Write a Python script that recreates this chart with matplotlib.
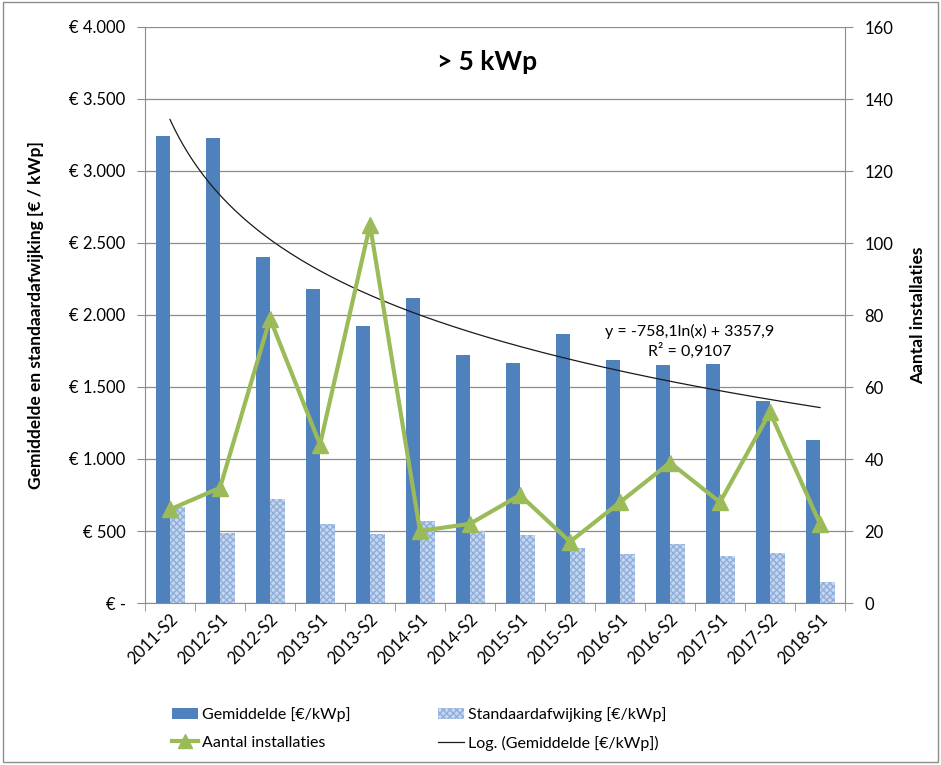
import matplotlib
matplotlib.use("Agg")
import matplotlib.pyplot as plt
import numpy as np
from matplotlib.patches import Rectangle, Patch
from matplotlib.lines import Line2D
from matplotlib.ticker import FixedLocator, FuncFormatter

plt.rcParams['font.family'] = ['Lato', 'DejaVu Sans']

categories = ["2011-S2", "2012-S1", "2012-S2", "2013-S1", "2013-S2", "2014-S1", "2014-S2",
              "2015-S1", "2015-S2", "2016-S1", "2016-S2", "2017-S1", "2017-S2", "2018-S1"]
gemiddelde = [3240, 3230, 2400, 2180, 1925, 2120, 1720, 1667, 1868, 1690, 1655, 1662, 1401, 1134]
standaardafwijking = [670, 484, 722, 549, 479, 572, 502, 472, 382, 340, 412, 326, 347, 146]
aantal = [26, 32, 79, 44, 105, 20, 22, 30, 17, 28, 39, 28, 53, 22]
trend_a = -758.1
trend_b = 3357.9
left_ticks = [0, 500, 1000, 1500, 2000, 2500, 3000, 3500, 4000]
right_ticks = [0, 20, 40, 60, 80, 100, 120, 140, 160]

W, H = 941, 765
fig = plt.figure(figsize=(W / 100, H / 100), dpi=100)
ax = fig.add_axes([145 / W, 1 - 603 / H, 700 / W, 576 / H])
ax2 = ax.twinx()

x = np.arange(len(categories))
bw = 0.29
ax.bar(x - bw / 2, gemiddelde, width=bw, color='#4f81bd', zorder=3)
ax.bar(x + bw / 2, standaardafwijking, width=bw, facecolor='#c5d6ee', edgecolor='#8eaedb',
       hatch='xxxxx', linewidth=0, zorder=3)

xt = np.linspace(1, len(categories), 200)
ax.plot(xt - 1, trend_a * np.log(xt) + trend_b, color='#1a1a1a', lw=0.9, zorder=4)

ax2.plot(x, aantal, color='#9bbb59', lw=3, marker='^', markersize=12, zorder=5)

ax.set_xlim(-0.5, len(categories) - 0.5)
ax.set_ylim(0, 4000)
ax2.set_ylim(0, 160)
ax.yaxis.set_major_locator(FixedLocator(left_ticks))
ax2.yaxis.set_major_locator(FixedLocator(right_ticks))

def euro(v, p):
    if v == 0:
        return "€ -"
    return "€ " + f"{int(v):,}".replace(",", ".")
ax.yaxis.set_major_formatter(FuncFormatter(euro))

ax.grid(axis='y', color='#8c8c8c', lw=0.9, zorder=0)
ax.set_axisbelow(True)
ax.set_xticks(x)
ax.set_xticklabels(categories, rotation=45, ha='right', rotation_mode='anchor', fontsize=12)
ax.tick_params(axis='x', length=0, pad=6)
ax.set_xticks(np.arange(len(categories) + 1) - 0.5, minor=True)
ax.tick_params(axis='x', which='minor', length=6, color='#8c8c8c')
ax.tick_params(axis='y', labelsize=12, length=6, color='#8c8c8c', pad=8)
ax2.tick_params(axis='y', labelsize=12, length=6, color='#8c8c8c', pad=8)

for a in (ax, ax2):
    a.spines['top'].set_visible(False)
    for s in ('left', 'right', 'bottom'):
        a.spines[s].set_color('#8c8c8c')
ax.spines['right'].set_visible(False)
ax2.spines['left'].set_visible(False)
ax2.spines['bottom'].set_visible(False)

ax.set_ylabel("Gemiddelde en standaardafwijking [€ / kWp]", fontsize=12.5, fontweight='bold', labelpad=18)
ax2.set_ylabel("Aantal installaties", fontsize=12.5, fontweight='bold', labelpad=12)

fig.text(487 / W, 1 - 62 / H, "> 5 kWp", fontsize=19, fontweight='bold', ha='center', va='center')
fig.text(690 / W, 1 - 331 / H, "y = -758,1ln(x) + 3357,9", fontsize=11.5, ha='center', va='center')
fig.text(690 / W, 1 - 351 / H, "R² = 0,9107", fontsize=11.5, ha='center', va='center')

h_gem = Patch(facecolor='#4f81bd')
h_aan = Line2D([0], [0], color='#9bbb59', lw=3, marker='^', markersize=10)
h_std = Patch(facecolor='#c5d6ee', edgecolor='#8eaedb', hatch='xxxxx', linewidth=0)
h_log = Line2D([0], [0], color='#1a1a1a', lw=0.9)

common = dict(loc='upper left', frameon=False, fontsize=11.5, handlelength=1.6,
              handletextpad=0.3, labelspacing=0.85, borderpad=0, borderaxespad=0)
leg1 = fig.legend([h_gem, h_aan], ["Gemiddelde [€/kWp]", "Aantal installaties"],
                  bbox_to_anchor=(172 / W, 1 - 707 / H), **common)
leg2 = fig.legend([h_std, h_log], ["Standaardafwijking [€/kWp]", "Log. (Gemiddelde [€/kWp])"],
                  bbox_to_anchor=(438 / W, 1 - 707 / H), **common)

fig.patches.append(Rectangle((3 / W, 3 / H), 935 / W, 760 / H, transform=fig.transFigure,
                             fill=False, edgecolor='#8c8c8c', lw=1))

fig.savefig("out.png", dpi=100)
